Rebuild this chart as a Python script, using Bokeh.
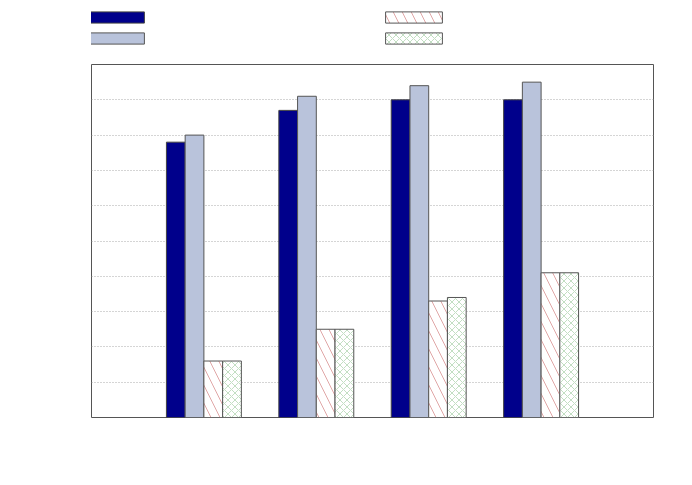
from bokeh.plotting import figure
from bokeh.layouts import column
from bokeh.models import ColumnDataSource, FixedTicker, Legend, LegendItem, Range1d
from bokeh.embed import file_html
from bokeh.resources import INLINE

groups = [1, 2, 3, 4]
series_a = [78, 87, 90, 90]
series_b = [80, 91, 94, 95]
series_c = [16, 25, 33, 41]
series_d = [16, 25, 34, 41]
grid_ticks = [10, 20, 30, 40, 50, 60, 70, 80, 90]

styles = [
    dict(fill_color="#00008B", line_color="#444444"),
    dict(fill_color="#B9C3DB", line_color="#555555"),
    dict(fill_color="white", line_color="#555555", hatch_pattern="left_diagonal_line",
         hatch_color="#D89090", hatch_scale=18, hatch_weight=0.8),
    dict(fill_color="white", line_color="#555555", hatch_pattern="diagonal_cross",
         hatch_color="#99C899", hatch_scale=7, hatch_weight=0.6),
]

p = figure(width=676, height=409, output_backend="svg", toolbar_location=None,
           x_range=Range1d(0, 5), y_range=Range1d(0, 100),
           min_border_left=91, min_border_right=23, min_border_top=4, min_border_bottom=52)
p.axis.visible = False
p.xgrid.visible = False
p.yaxis.ticker = FixedTicker(ticks=grid_ticks)
p.ygrid.grid_line_color = "#AAAAAA"
p.ygrid.grid_line_dash = "1 2"
p.outline_line_color = "#555555"
p.outline_line_width = 1

w = 1 / 6
offs = [-0.25, -1 / 12, 1 / 12, 0.25]
src = ColumnDataSource(dict(
    xa=[g + offs[0] for g in groups], xb=[g + offs[1] for g in groups],
    xc=[g + offs[2] for g in groups], xd=[g + offs[3] for g in groups],
    a=series_a, b=series_b, c=series_c, d=series_d))

keys = list(zip(["xa", "xb", "xc", "xd"], ["a", "b", "c", "d"]))
for (xk, yk), st in zip(keys, styles):
    p.vbar(x=xk, top=yk, width=w, source=src, **st)

# legend strip above the plot (its own bars are far out of view; only the legend shows)
lg = figure(width=676, height=60, output_backend="svg", toolbar_location=None,
            x_range=Range1d(1000, 1005), y_range=Range1d(1000, 1010),
            min_border_left=91, min_border_right=23, min_border_top=0, min_border_bottom=0)
lg.axis.visible = False
lg.grid.visible = False
lg.outline_line_color = None
lrs = [lg.vbar(x=xk, top=yk, width=w, source=src, **st) for (xk, yk), st in zip(keys, styles)]
legend = Legend(items=[LegendItem(label="\u00a0", renderers=[r]) for r in lrs],
                location=(-11, 15), nrows=2, glyph_width=71, glyph_height=14, label_height=14,
                label_width=220, label_standoff=0, spacing=7, padding=0, margin=0,
                border_line_color=None, background_fill_alpha=0, label_text_font_size="1px")
lg.add_layout(legend, "center")

layout = column(lg, p, spacing=0)
open("out.html", "w").write(file_html(layout, INLINE))
